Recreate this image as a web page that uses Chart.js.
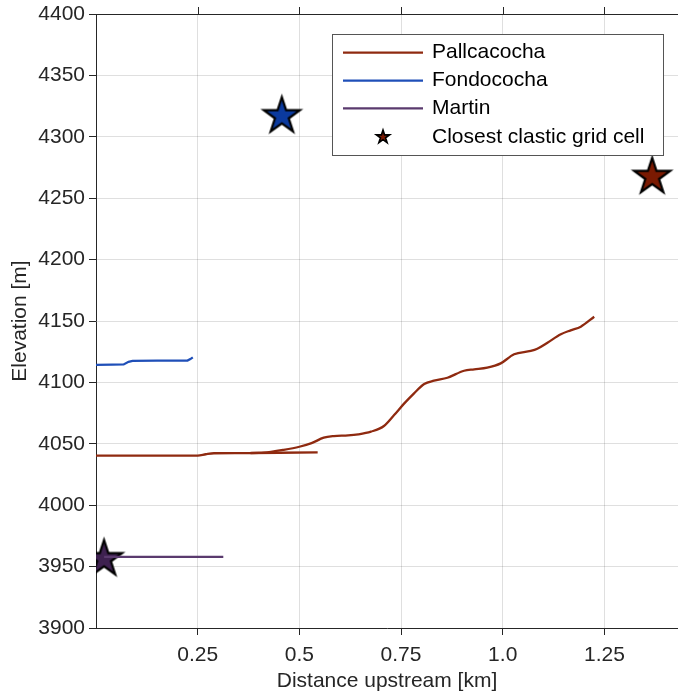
<!DOCTYPE html>
<html>
<head>
<meta charset="utf-8">
<script src="https://cdn.jsdelivr.net/npm/chart.js@4.4.1/dist/chart.umd.min.js"></script>
<style>
  html, body { margin: 0; padding: 0; background: #fff; }
  #chart { display: block; }
</style>
</head>
<body>
<canvas id="chart" width="678" height="698"></canvas>
<script>
// --- data ---
var pallX = [0, 0.10, 0.20, 0.25, 0.27, 0.29, 0.35, 0.40, 0.43, 0.46, 0.50, 0.53, 0.56, 0.585, 0.62, 0.645, 0.676, 0.708, 0.733, 0.758, 0.782, 0.807, 0.831, 0.864, 0.905, 0.930, 0.962, 0.995, 1.028, 1.069, 1.085, 1.110, 1.143, 1.167, 1.192, 1.225];
var pallY = [4040.3, 4040.3, 4040.3, 4040.4, 4041.5, 4042.3, 4042.4, 4042.6, 4043.5, 4045.0, 4047.6, 4050.5, 4055.0, 4056.3, 4056.8, 4057.7, 4059.9, 4064.5, 4073.4, 4082.9, 4091.1, 4098.7, 4101.4, 4103.8, 4109.5, 4110.6, 4112.0, 4115.5, 4122.9, 4125.6, 4127.4, 4132.3, 4139.2, 4142.4, 4145.4, 4153.5];
var pallBranchX = [0.38, 0.45, 0.545];
var pallBranchY = [4042.5, 4042.7, 4043.0];
var fondoX = [0, 0.04, 0.068, 0.08, 0.09, 0.15, 0.225, 0.232, 0.238];
var fondoY = [4114.2, 4114.5, 4114.6, 4116.8, 4117.6, 4117.7, 4117.8, 4119.0, 4120.4];
var martinX = [0.02, 0.10, 0.20, 0.313];
var martinY = [3958.0, 3958.0, 3958.0, 3958.0];
var starX = [1.3675, 0.457, 0.0197];
var starY = [4267.5, 4316.9, 3956.2];
var starColors = ['#7a1a02', '#0b3a9e', '#3e2150'];
var lineColors = ['#8f2a10', '#1f4fb8', '#5a3a6e'];
var seriesNames = ['Pallcacocha', 'Fondococha', 'Martin'];
var starName = 'Closest clastic grid cell';
var xTicks = [0.25, 0.5, 0.75, 1.0, 1.25];
var xTickLabels = ['0.25', '0.5', '0.75', '1.0', '1.25'];
var yTicks = [3900, 3950, 4000, 4050, 4100, 4150, 4200, 4250, 4300, 4350, 4400];

var FONT = 'Helvetica, "Liberation Sans", Arial, sans-serif';
var INK = '#262626';

function makeStar(fill, R, lw) {
  var size = Math.ceil(2 * R + lw * 2 + 4);
  var c = document.createElement('canvas');
  c.width = size; c.height = size;
  var g = c.getContext('2d');
  var cx = size / 2, cy = size / 2, r = R * 0.382;
  g.beginPath();
  for (var i = 0; i < 10; i++) {
    var rad = i % 2 === 0 ? R : r;
    var a = -Math.PI / 2 + i * Math.PI / 5;
    var px = cx + rad * Math.cos(a), py = cy + rad * Math.sin(a);
    if (i === 0) g.moveTo(px, py); else g.lineTo(px, py);
  }
  g.closePath();
  g.fillStyle = fill;
  g.fill();
  g.lineJoin = 'miter';
  g.lineWidth = lw;
  g.strokeStyle = '#000';
  g.stroke();
  return c;
}

var bigStars = starColors.map(function (c) { return makeStar(c, 19, 2.2); });
var legendStar = makeStar(starColors[0], 7, 1.6);

function pts(xs, ys) {
  return xs.map(function (x, i) { return { x: x, y: ys[i] }; });
}

// top box line + top ticks + legend
var boxAndLegend = {
  id: 'boxAndLegend',
  afterDraw: function (chart) {
    var ctx = chart.ctx, area = chart.chartArea, xs = chart.scales.x;
    ctx.save();
    ctx.strokeStyle = INK;
    ctx.lineWidth = 1;
    ctx.beginPath();
    ctx.moveTo(area.left, area.top + 0.5);
    ctx.lineTo(area.right, area.top + 0.5);
    xTicks.forEach(function (t) {
      var px = Math.round(xs.getPixelForValue(t)) + 0.5;
      ctx.moveTo(px, area.top);
      ctx.lineTo(px, area.top - 7);
    });
    ctx.stroke();

    // legend box
    var bx = 332.5, by = 34.5, bw = 331, bh = 121;
    ctx.fillStyle = '#fff';
    ctx.fillRect(bx, by, bw, bh);
    ctx.strokeStyle = '#555';
    ctx.strokeRect(bx, by, bw, bh);
    ctx.font = '21px ' + FONT;
    ctx.textBaseline = 'middle';
    ctx.textAlign = 'left';
    var rows = [52.7, 80.7, 108.3, 137];
    for (var i = 0; i < 3; i++) {
      ctx.strokeStyle = lineColors[i];
      ctx.lineWidth = 2.2;
      ctx.beginPath();
      ctx.moveTo(343, rows[i]);
      ctx.lineTo(423, rows[i]);
      ctx.stroke();
      ctx.fillStyle = '#000';
      ctx.fillText(seriesNames[i], 432, rows[i]);
    }
    ctx.drawImage(legendStar, 383 - legendStar.width / 2, rows[3] - legendStar.height / 2);
    ctx.fillText(starName, 432, rows[3]);
    ctx.restore();
  }
};

var lineBase = { showLine: true, fill: false, pointRadius: 0, borderWidth: 2.3, tension: 0 };

new Chart(document.getElementById('chart').getContext('2d'), {
  type: 'scatter',
  data: {
    datasets: [
      Object.assign({ label: seriesNames[0], data: pts(pallX, pallY), borderColor: lineColors[0] }, lineBase, { tension: 0.4, cubicInterpolationMode: 'monotone' }),
      Object.assign({ label: seriesNames[0] + ' branch', data: pts(pallBranchX, pallBranchY), borderColor: lineColors[0] }, lineBase),
      Object.assign({ label: seriesNames[1], data: pts(fondoX, fondoY), borderColor: lineColors[1] }, lineBase),
      Object.assign({ label: seriesNames[2], data: pts(martinX, martinY), borderColor: lineColors[2] }, lineBase),
      {
        label: starName,
        data: pts(starX, starY),
        showLine: false,
        pointStyle: bigStars,
        pointRadius: 20,
        pointHoverRadius: 20,
        backgroundColor: starColors,
        borderColor: '#000'
      }
    ]
  },
  plugins: [boxAndLegend],
  options: {
    responsive: false,
    animation: false,
    devicePixelRatio: 1,
    layout: { autoPadding: false, padding: { top: 14, right: 0, left: 0, bottom: 0 } },
    plugins: {
      legend: { display: false },
      tooltip: { enabled: false }
    },
    scales: {
      x: {
        type: 'linear',
        min: 0,
        max: 1.431,
        afterBuildTicks: function (s) { s.ticks = xTicks.map(function (v) { return { value: v }; }); },
        afterFit: function (s) { s.height = 70; s.paddingLeft = 0; s.paddingRight = 0; },
        ticks: {
          color: INK,
          font: { family: FONT, size: 21 },
          padding: 8,
          maxRotation: 0,
          autoSkip: false,
          callback: function (v) { return xTickLabels[xTicks.indexOf(v)]; }
        },
        grid: { color: 'rgba(38,38,38,0.15)', tickColor: INK, tickLength: 7 },
        border: { color: INK, width: 1 },
        title: {
          display: true,
          text: 'Distance upstream [km]',
          color: INK,
          font: { family: FONT, size: 21 },
          padding: { top: 0, bottom: 4 }
        }
      },
      y: {
        type: 'linear',
        min: 3900,
        max: 4400,
        afterBuildTicks: function (s) { s.ticks = yTicks.map(function (v) { return { value: v }; }); },
        afterFit: function (s) { s.width = 96; s.paddingTop = 0; s.paddingBottom = 0; },
        ticks: {
          color: INK,
          font: { family: FONT, size: 21 },
          padding: 4,
          autoSkip: false,
          callback: function (v) { return String(v); }
        },
        grid: { color: 'rgba(38,38,38,0.15)', tickColor: INK, tickLength: 7 },
        border: { color: INK, width: 1 },
        title: {
          display: true,
          text: 'Elevation [m]',
          color: INK,
          font: { family: FONT, size: 21 },
          padding: { top: 8, bottom: 0 }
        }
      }
    }
  }
});
</script>
</body>
</html>
